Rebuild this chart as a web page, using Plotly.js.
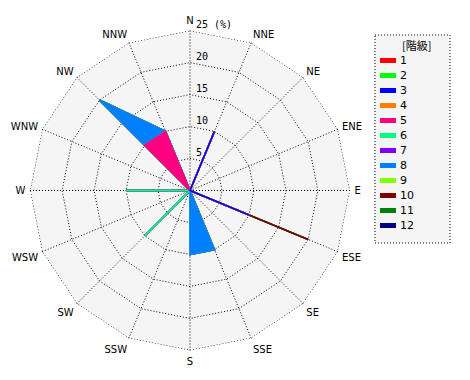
<!DOCTYPE html>
<html><head><meta charset="utf-8">
<script src="https://cdn.plot.ly/plotly-3.0.1.min.js"></script>
<style>body{margin:0;background:#fff}#c{width:470px;height:380px}</style>
</head><body><div id="c"></div>
<script>
const directions = ['N','NNE','NE','ENE','E','ESE','SE','SSE','S','SSW','SW','WSW','W','WNW','NW','NNW'];
const classNames = ['1','2','3','4','5','6','7','8','9','10','11','12'];
const classColors = ['#ff0000','#00ff00','#0000ff','#ff8000','#ff0080','#00ff80','#8000ff','#0080ff','#80ff00','#800000','#008000','#000080'];
//             N NNE NE ENE E ESE SE SSE S SSW SW WSW W WNW NW NNW
const class1  = [0, 0, 0, 0, 0, 0, 0, 0, 0, 0, 0, 0, 0, 0, 0, 0];
const class2  = [0, 0, 0, 0, 0, 0, 0, 0, 0, 0, 0, 0, 0, 0, 0, 0];
const class3  = [0,10, 0, 0, 0,10, 0, 0, 0, 0, 0, 0, 0, 0, 0, 0];
const class4  = [0, 0, 0, 0, 0, 0, 0, 0, 0, 0, 0, 0, 0, 0, 0, 0];
const class5  = [0, 0, 0, 0, 0, 0, 0, 0, 0, 0, 0, 0, 0, 0,10,10];
const class6  = [0, 0, 0, 0, 0, 0, 0, 0, 0, 0,10, 0,10, 0, 0, 0];
const class7  = [0, 0, 0, 0, 0, 0, 0, 0, 0, 0, 0, 0, 0, 0, 0, 0];
const class8  = [0, 0, 0, 0, 0, 0, 0,10,10, 0, 0, 0, 0, 0,10, 0];
const class9  = [0, 0, 0, 0, 0, 0, 0, 0, 0, 0, 0, 0, 0, 0, 0, 0];
const class10 = [0, 0, 0, 0, 0,10, 0, 0, 0, 0, 0, 0, 0, 0, 0, 0];
const class11 = [0, 0, 0, 0, 0, 0, 0, 0, 0, 0, 0, 0, 0, 0, 0, 0];
const class12 = [0, 0, 0, 0, 0, 0, 0, 0, 0, 0, 0, 0, 0, 0, 0, 0];
const radialTickVals = [0,5,10,15,20,25];
const radialTickText = ['0','5','10','15','20','25 (%)'];
const legendTitle = '[階級]';

const series = [class1,class2,class3,class4,class5,class6,class7,class8,class9,class10,class11,class12];
const cum = [];
series.forEach((s,k)=>{ cum.push(s.map((v,i)=> v + (k>0 ? cum[k-1][i] : 0))); });

const DOT = '1px,2px';
const traces = [];
const rMax = radialTickVals[radialTickVals.length-1];
traces.push({type:'scatterpolar', mode:'lines', theta:directions.concat([directions[0]]),
  r:directions.map(()=>rMax).concat([rMax]), line:{color:'#000', width:1, dash:DOT},
  showlegend:false, hoverinfo:'skip'});
for (let k = series.length-1; k >= 0; k--) {
  traces.push({
    type:'scatterpolar', mode:'lines', fill:'toself',
    theta: directions.concat([directions[0]]),
    r: cum[k].concat([cum[k][0]]),
    line:{color:classColors[k], width:1.6},
    fillcolor: classColors[k],
    name: classNames[k], showlegend:false, hoverinfo:'skip'
  });
}
traces.push({type:'scatterpolar', mode:'markers', theta:[directions[0]], r:[0],
  marker:{color:'#000', size:6}, showlegend:false, hoverinfo:'skip'});
// radial tick labels along the N spoke
traces.push({type:'scatterpolar', mode:'text', theta:radialTickVals.map(()=>directions[0]), r:radialTickVals,
  text:radialTickText.map(t=>'\u00a0'+t), textposition:'top right', cliponaxis:false,
  textfont:{family:'DejaVu Sans Mono', size:10, color:'#000'}, showlegend:false, hoverinfo:'skip'});

const W=470,H=380;
const px = x=>x/W, py = y=>1-y/H;
const shapes = [{type:'rect', xref:'paper', yref:'paper', x0:px(375), x1:px(450), y0:py(35), y1:py(243),
  line:{color:'#000', width:1, dash:DOT}, fillcolor:'#f5f5f5', layer:'below'}];
const annotations = [{xref:'paper', yref:'paper', x:px(416), y:py(45), text:legendTitle, showarrow:false,
  xanchor:'center', yanchor:'middle', font:{family:'Noto Sans CJK JP, DejaVu Sans', size:11, color:'#000'}}];
classNames.forEach((n,i)=>{
  const yc = 60.5 + 15*i;
  shapes.push({type:'rect', xref:'paper', yref:'paper', x0:px(380), x1:px(396), y0:py(yc-2.5), y1:py(yc+2.5),
    line:{width:0}, fillcolor:classColors[i]});
  annotations.push({xref:'paper', yref:'paper', x:px(398), y:py(yc), text:n, showarrow:false,
    xanchor:'left', yanchor:'middle', font:{family:'DejaVu Sans', size:11, color:'#000'}});
});

const layout = {
  width:W, height:H, margin:{l:0,r:0,t:0,b:0}, paper_bgcolor:'#fff', showlegend:false,
  font:{family:'DejaVu Sans', size:10, color:'#000'},
  polar:{
    domain:{x:[px(30),px(350)], y:[py(350.5),py(30.5)]},
    bgcolor:'#f5f5f5', gridshape:'linear',
    angularaxis:{type:'category', categoryarray:directions, rotation:90, direction:'clockwise',
      showline:false, ticks:'outside', ticklen:2, tickcolor:'rgba(0,0,0,0)',
      gridcolor:'#000', griddash:DOT, gridwidth:1,
      tickfont:{family:'DejaVu Sans', size:10}},
    radialaxis:{range:[0,25.02], angle:90, tickvals:radialTickVals, showticklabels:false,
      showline:false, ticks:'', gridcolor:'#000', griddash:DOT, gridwidth:1}
  },
  shapes:shapes, annotations:annotations
};
Plotly.newPlot('c', traces, layout, {staticPlot:true});
</script></body></html>
